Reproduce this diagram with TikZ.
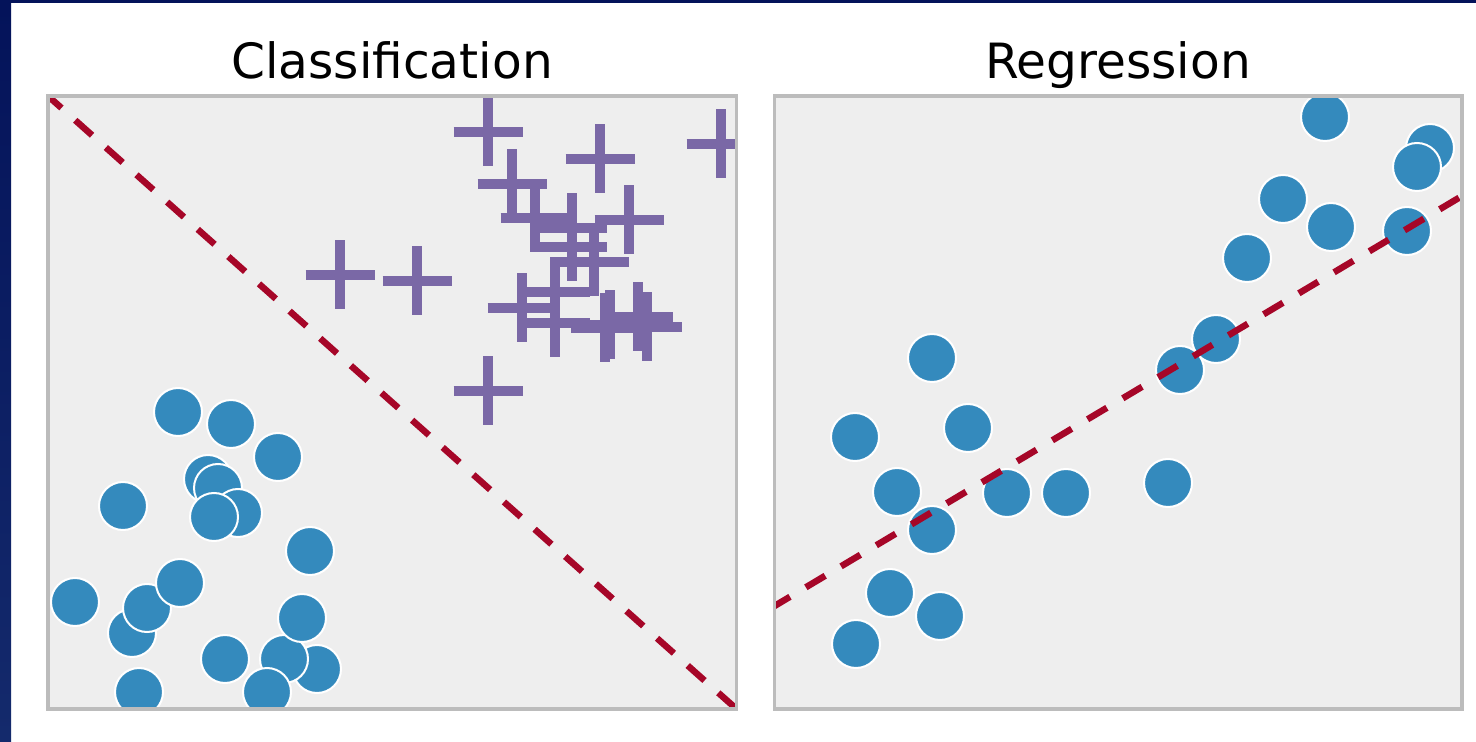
\documentclass[tikz,border=0pt]{standalone}
\usepackage{fontspec}
\setmainfont{DejaVu Sans}
\definecolor{bmhblue}{HTML}{348ABD}
\definecolor{bmhpurple}{HTML}{7A68A6}
\definecolor{bmhred}{HTML}{A60628}
\definecolor{axface}{HTML}{EEEEEE}
\definecolor{axedge}{HTML}{BCBCBC}
\definecolor{navytop}{HTML}{04135A}
\definecolor{navybot}{HTML}{142A6C}
\begin{document}
\begin{tikzpicture}[x=0.5pt,y=-0.5pt,
  dot/.style={fill=bmhblue, draw=white, line width=1pt},
  cross/.style={draw=bmhpurple, line width=5pt},
  fitline/.style={draw=bmhred, line width=3.25pt, dash pattern=on 11.25pt off 9.25pt, dash phase=2.25pt},
  frame/.style={draw=axedge, line width=1.75pt, fill=axface},
  title/.style={anchor=base, font=\fontsize{24.3}{29}\selectfont}]
\useasboundingbox (0,0) rectangle (1476,742);
\fill[white] (0,0) rectangle (1476,742);
\fill[navytop] (0,0) rectangle (1476,3);
\shade[top color=navytop, bottom color=navybot] (0,0) rectangle (11,742);

% titles
\node[title] (t1) at (392,78.5) {Classification};
\node[title] (t2) at (1118,78.5) {Regression};

% left panel
\fill[axface] (48,96) rectangle (736.5,709);
\begin{scope}
  \clip (48,96) rectangle (736.5,709);
  \foreach \x/\y in {178/412,231/424,278/457,123/506,208/479,218/488,238/513,214/517,310/551,75/602,132/633,147/608,180/583,317/669,284/659,302/618,225/659,267/692,139/692}
    \draw[dot] (\x,\y) circle[radius=12pt];
  \foreach \x/\y in {488/132,600/159,721/144,512/184,535/218,572/228,572/247,594/262,629/220,340/275,417/281,488/391,522/308,555/292,555/323,605/328,610/325,638/317,647/327}
    \draw[cross] (\x,\y) ++(-34.5,0) -- ++(69,0) (\x,\y) ++(0,-34.5) -- ++(0,69);
  \coordinate (l1) at (48,96);
  \coordinate (l2) at (736.5,709);
  \draw[fitline] (l1) -- (l2);
\end{scope}
\draw[axedge, line width=1.75pt] (48,96) rectangle (736.5,709);

% right panel
\fill[axface] (774.5,96) rectangle (1462,709);
\begin{scope}
  \clip (774.5,96) rectangle (1462,709);
  \foreach \x/\y in {1325/117,1430/148,1417/167,1283/199,1331/227,1407/231,1247/258,1216/339,1180/370,932/358,855/437,968/428,897/492,932/530,1007/493,1066/493,1168/483,890/593,940/616,856/644}
    \draw[dot] (\x,\y) circle[radius=12pt];
  \coordinate (r1) at (774.5,606);
  \coordinate (r2) at (1462,196);
  \draw[fitline] (r1) -- (r2);
\end{scope}
\draw[axedge, line width=1.75pt] (774.5,96) rectangle (1462,709);
\end{tikzpicture}
\end{document}
